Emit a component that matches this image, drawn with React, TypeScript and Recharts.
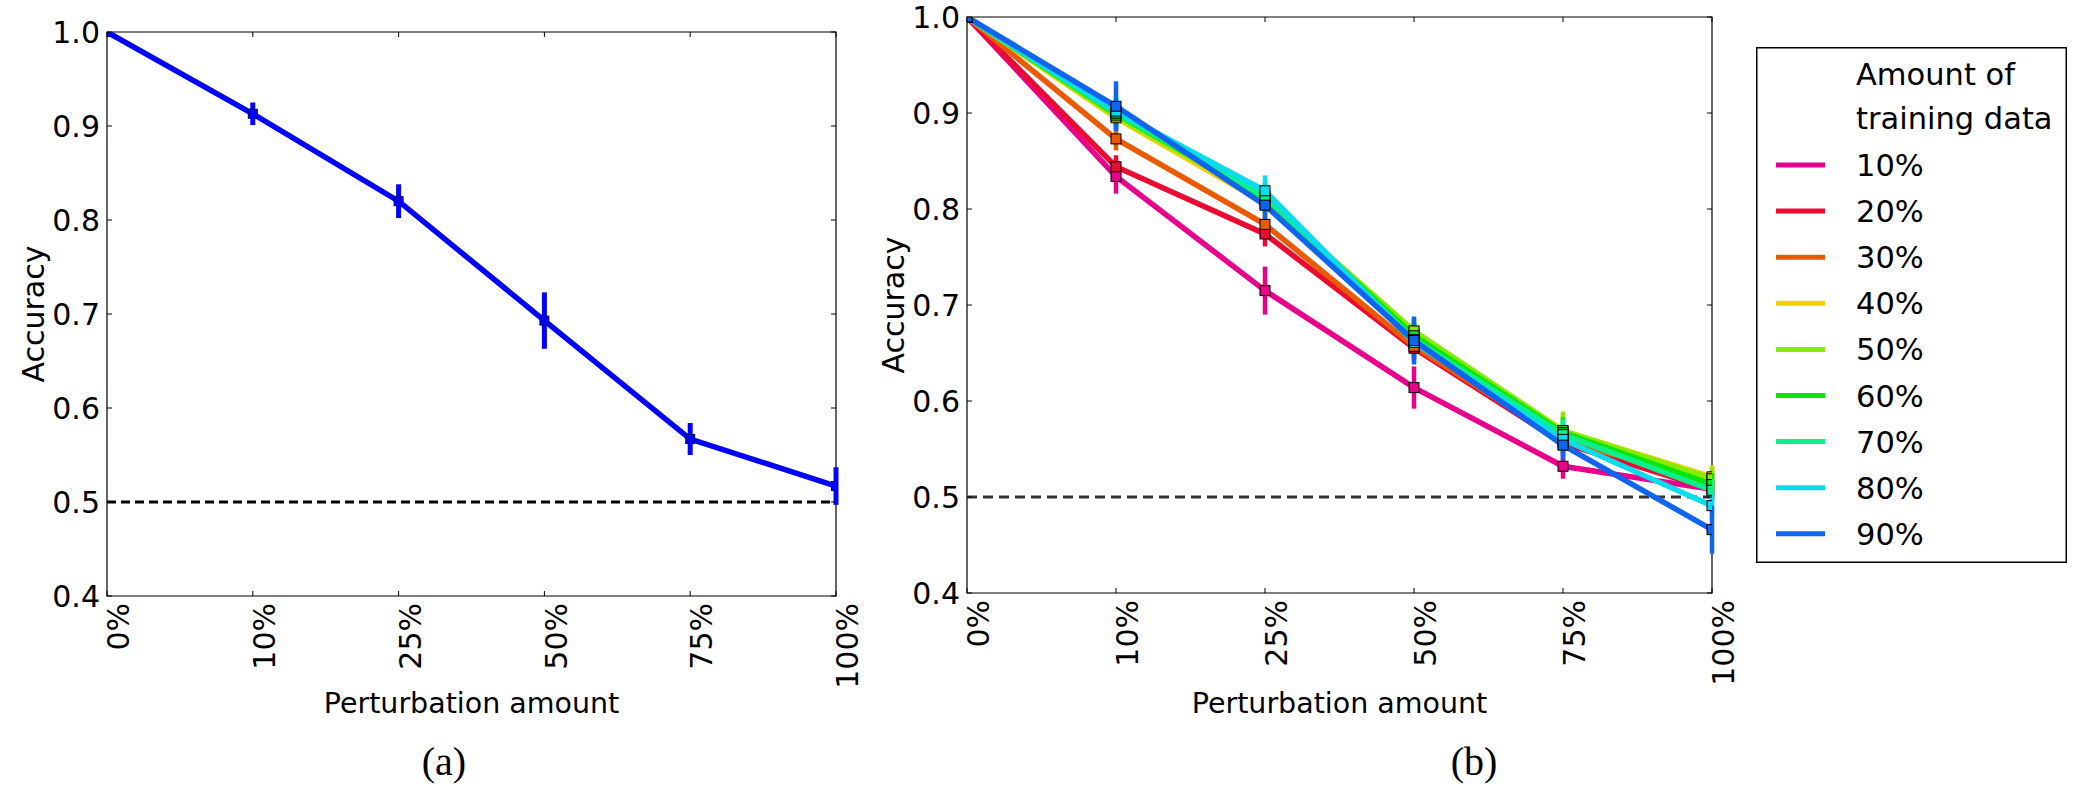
import React from "react";
import { ErrorBar, Legend, Line, LineChart, ReferenceArea, ReferenceLine, XAxis, YAxis } from "recharts";

// perturbation amounts on the x axis (evenly spaced categories)
const CATEGORIES = ["0%", "10%", "25%", "50%", "75%", "100%"];
const X_TICKS = [0, 1, 2, 3, 4, 5];
const Y_TICKS = [0.4, 0.5, 0.6, 0.7, 0.8, 0.9, 1.0];
const CHANCE = 0.5;

// (a) accuracy and error
const ACC_A = [1.0, 0.913, 0.82, 0.693, 0.567, 0.517];
const ERR_A = [0, 0.012, 0.018, 0.03, 0.017, 0.02];

// (b) accuracy per amount of training data
const ACC_10 = [1.0, 0.834, 0.715, 0.614, 0.532, 0.508];
const ACC_20 = [1.0, 0.844, 0.774, 0.655, 0.556, 0.508];
const ACC_30 = [1.0, 0.873, 0.784, 0.657, 0.558, 0.518];
const ACC_40 = [1.0, 0.895, 0.806, 0.671, 0.569, 0.521];
const ACC_50 = [1.0, 0.897, 0.81, 0.673, 0.569, 0.519];
const ACC_60 = [1.0, 0.899, 0.812, 0.668, 0.567, 0.513];
const ACC_70 = [1.0, 0.9, 0.813, 0.664, 0.565, 0.507];
const ACC_80 = [1.0, 0.902, 0.819, 0.661, 0.56, 0.491];
const ACC_90 = [1.0, 0.907, 0.804, 0.663, 0.554, 0.466];

const ERR_10 = [0, 0.018, 0.025, 0.022, 0.013, 0.01];
const ERR_20 = [0, 0.012, 0.013, 0.012, 0.012, 0.01];
const ERR_30 = [0, 0.012, 0.012, 0.012, 0.012, 0.01];
const ERR_40 = [0, 0.014, 0.014, 0.014, 0.018, 0.012];
const ERR_50 = [0, 0.014, 0.014, 0.014, 0.02, 0.012];
const ERR_60 = [0, 0.015, 0.015, 0.015, 0.016, 0.012];
const ERR_70 = [0, 0.015, 0.015, 0.016, 0.016, 0.012];
const ERR_80 = [0, 0.016, 0.016, 0.02, 0.016, 0.012];
const ERR_90 = [0, 0.026, 0.016, 0.025, 0.016, 0.025];

const TRAIN_LABELS = ["10%", "20%", "30%", "40%", "50%", "60%", "70%", "80%", "90%"];
const TRAIN_COLORS = [
  "#e8008c",
  "#eb0a32",
  "#eb5a00",
  "#ebd200",
  "#85eb00",
  "#0ae60a",
  "#0af08a",
  "#0adceb",
  "#0f64f0",
];
const ACC_B = [ACC_10, ACC_20, ACC_30, ACC_40, ACC_50, ACC_60, ACC_70, ACC_80, ACC_90];
const ERR_B = [ERR_10, ERR_20, ERR_30, ERR_40, ERR_50, ERR_60, ERR_70, ERR_80, ERR_90];

const FONT = "'DejaVu Sans', sans-serif";
const TICK_FS = 30;
const LABEL_FS = 28.5;
const LEGEND_FS = 30.5;

type Plot = { l: number; t: number; r: number; b: number };
const PLOT_A: Plot = { l: 107, t: 32, r: 836, b: 596 };
const PLOT_B: Plot = { l: 107, t: 17, r: 852, b: 593 };
const CHART_A = { left: 0, w: 900, h: 800 };
const CHART_B = { left: 860, w: 1229, h: 800 };

const dataA = CATEGORIES.map((c, i) => ({ x: i, label: c, acc: ACC_A[i], err: ERR_A[i] }));

const dataB = CATEGORIES.map((c, i) => {
  const row: Record<string, number | string> = { x: i, label: c };
  TRAIN_LABELS.forEach((name, k) => {
    row[`s${k}`] = ACC_B[k][i];
    row[`s${k}_err`] = ERR_B[k][i];
  });
  return row;
});

const YTick = ({ y, payload, plot }: any) => (
  <g>
    <line x1={plot.l} x2={plot.l + 5} y1={y} y2={y} stroke="#000" strokeWidth={1} />
    <line x1={plot.r - 5} x2={plot.r} y1={y} y2={y} stroke="#000" strokeWidth={1} />
    <text
      x={plot.l - 7}
      y={y + TICK_FS * 0.36}
      textAnchor="end"
      fontFamily={FONT}
      fontSize={TICK_FS}
      fill="#000"
    >
      {Number(payload.value).toFixed(1)}
    </text>
  </g>
);

const XTick = ({ x, payload, plot }: any) => (
  <g>
    <line x1={x} x2={x} y1={plot.b - 5} y2={plot.b} stroke="#000" strokeWidth={1} />
    <line x1={x} x2={x} y1={plot.t} y2={plot.t + 5} stroke="#000" strokeWidth={1} />
    <text
      transform={`translate(${x + TICK_FS * 0.74}, ${plot.b + 7}) rotate(-90)`}
      textAnchor="end"
      fontFamily={FONT}
      fontSize={TICK_FS}
      fill="#000"
    >
      {CATEGORIES[payload.value]}
    </text>
  </g>
);

const SquareDot = ({ cx, cy, fill, edge, size }: any) => {
  if (cx == null || cy == null) return null;
  return (
    <rect
      x={cx - size / 2}
      y={cy - size / 2}
      width={size}
      height={size}
      fill={fill}
      stroke={edge}
      strokeWidth={1}
    />
  );
};

function axisTitles(plot: Plot) {
  const cx = (plot.l + plot.r) / 2;
  const cy = (plot.t + plot.b) / 2;
  return (
    <g>
      <text x={cx} y={713} textAnchor="middle" fontFamily={FONT} fontSize={LABEL_FS} fill="#000">
        Perturbation amount
      </text>
      <text
        transform={`translate(${plot.l - 63}, ${cy}) rotate(-90)`}
        textAnchor="middle"
        fontFamily={FONT}
        fontSize={30}
        fill="#000"
      >
        Accuracy
      </text>
    </g>
  );
}

const LEG = { l: 1756 - CHART_B.left, t: 47, w: 311, h: 516 };

const renderLegend = (props: any) => {
  const items = (props.payload || []).filter((p: any) => TRAIN_LABELS.includes(p.value));
  return (
    <svg width={LEG.w} height={LEG.h} style={{ display: "block" }}>
      <rect x={0.75} y={0.75} width={LEG.w - 1.5} height={LEG.h - 1.5} fill="#fff" stroke="#000" strokeWidth={1.5} />
      <text x={100} y={38} fontFamily={FONT} fontSize={LEGEND_FS} fill="#000">
        Amount of
      </text>
      <text x={100} y={82} fontFamily={FONT} fontSize={LEGEND_FS} fill="#000">
        training data
      </text>
      {items.map((p: any, i: number) => {
        const base = 129 + 46.1 * i;
        return (
          <g key={p.value}>
            <line x1={20} x2={69} y1={base - 11} y2={base - 11} stroke={p.color} strokeWidth={5} />
            <text x={100} y={base} fontFamily={FONT} fontSize={LEGEND_FS} fill="#000">
              {p.value}
            </text>
          </g>
        );
      })}
    </svg>
  );
};

function PanelA() {
  const plot = PLOT_A;
  return (
    <LineChart
      width={CHART_A.w}
      height={CHART_A.h}
      data={dataA}
      margin={{ top: plot.t, right: CHART_A.w - plot.r, bottom: 0, left: 0 }}
    >
      <XAxis
        type="number"
        dataKey="x"
        domain={[0, 5]}
        ticks={X_TICKS}
        interval={0}
        allowDataOverflow
        height={CHART_A.h - plot.b}
        axisLine={false}
        tickLine={false}
        tick={(p: any) => <XTick {...p} plot={plot} />}
        label={() => axisTitles(plot)}
      />
      <YAxis
        type="number"
        domain={[0.4, 1.0]}
        ticks={Y_TICKS}
        interval={0}
        allowDataOverflow
        width={plot.l}
        axisLine={false}
        tickLine={false}
        tick={(p: any) => <YTick {...p} plot={plot} />}
      />
      <ReferenceArea x1={0} x2={5} y1={0.4} y2={1.0} fill="none" stroke="#000" strokeWidth={1.2} ifOverflow="visible" />
      <ReferenceLine y={CHANCE} stroke="#000" strokeWidth={3} strokeDasharray="9 5" />
      <Line
        type="linear"
        dataKey="acc"
        stroke="#0000ff"
        strokeWidth={5.5}
        isAnimationActive={false}
        activeDot={false}
        dot={(p: any) => <SquareDot key={p.index} {...p} fill="#0000ff" edge="#00007a" size={9} />}
      >
        <ErrorBar dataKey="err" direction="y" width={0} stroke="#0000ff" strokeWidth={5} isAnimationActive={false} />
      </Line>
    </LineChart>
  );
}

function PanelB() {
  const plot = PLOT_B;
  return (
    <LineChart
      width={CHART_B.w}
      height={CHART_B.h}
      data={dataB}
      margin={{ top: plot.t, right: CHART_B.w - plot.r, bottom: 0, left: 0 }}
    >
      <XAxis
        type="number"
        dataKey="x"
        domain={[0, 5]}
        ticks={X_TICKS}
        interval={0}
        allowDataOverflow
        height={CHART_B.h - plot.b}
        axisLine={false}
        tickLine={false}
        tick={(p: any) => <XTick {...p} plot={plot} />}
        label={() => axisTitles(plot)}
      />
      <YAxis
        type="number"
        domain={[0.4, 1.0]}
        ticks={Y_TICKS}
        interval={0}
        allowDataOverflow
        width={plot.l}
        axisLine={false}
        tickLine={false}
        tick={(p: any) => <YTick {...p} plot={plot} />}
      />
      <ReferenceArea x1={0} x2={5} y1={0.4} y2={1.0} fill="none" stroke="#000" strokeWidth={1.2} ifOverflow="visible" />
      <ReferenceLine y={CHANCE} stroke="#333" strokeWidth={3} strokeDasharray="10 6" />
      {TRAIN_LABELS.map((name, k) => (
        <Line
          key={name}
          name={name}
          type="linear"
          dataKey={`s${k}`}
          stroke={TRAIN_COLORS[k]}
          strokeWidth={5.5}
          isAnimationActive={false}
          activeDot={false}
          dot={(p: any) => <SquareDot key={p.index} {...p} fill={TRAIN_COLORS[k]} edge="#000" size={10} />}
        >
          <ErrorBar
            dataKey={`s${k}_err`}
            direction="y"
            width={0}
            stroke={TRAIN_COLORS[k]}
            strokeWidth={4.5}
            isAnimationActive={false}
          />
        </Line>
      ))}
      <Legend
        layout="vertical"
        align="center"
        verticalAlign="middle"
        itemSorter={null as any}
        wrapperStyle={{ left: LEG.l, top: LEG.t, width: LEG.w, height: LEG.h }}
        content={renderLegend}
      />
    </LineChart>
  );
}

export default function App() {
  const caption: React.CSSProperties = {
    position: "absolute",
    top: 740,
    width: 90,
    marginLeft: -45,
    textAlign: "center",
    fontFamily: "'Liberation Serif', serif",
    fontSize: 40,
    lineHeight: "44px",
    color: "#000",
  };
  return (
    <div style={{ position: "absolute", left: 0, top: 0, width: 2089, height: 800, background: "#fff", overflow: "hidden" }}>
      <div style={{ position: "absolute", left: CHART_A.left, top: 0 }}>
        <PanelA />
      </div>
      <div style={{ position: "absolute", left: CHART_B.left, top: 0 }}>
        <PanelB />
      </div>
      <div style={{ ...caption, left: 444 }}>(a)</div>
      <div style={{ ...caption, left: 1474 }}>(b)</div>
    </div>
  );
}
